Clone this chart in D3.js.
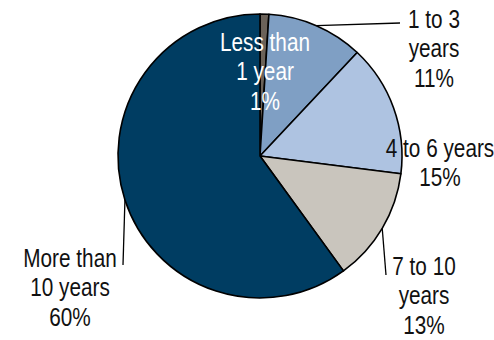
<!DOCTYPE html>
<html>
<head>
<meta charset="utf-8">
<script src="https://cdn.jsdelivr.net/npm/d3@7"></script>
<style>
  body { margin: 0; background: #fff; }
  text { font-family: "Liberation Sans", Arial, sans-serif; font-size: 25px; }
</style>
</head>
<body>
<div id="chart"></div>
<script>
// data
var categories = ["Less than 1 year", "1 to 3 years", "4 to 6 years", "7 to 10 years", "More than 10 years"];
var shares = [1, 11, 15, 13, 60];
var labelLines = [
  ["Less than", "1 year", "1%"],
  ["1 to 3", "years", "11%"],
  ["4 to 6 years", "15%"],
  ["7 to 10", "years", "13%"],
  ["More than", "10 years", "60%"]
];
var colors = ["#6b6259", "#7f9fc4", "#aec3e1", "#c9c5bd", "#003d62"];

var width = 494, height = 340;
var cx = 260, cy = 156, radius = 142;

// label anchor (centre x, first baseline) and leader end points
var labelPos = [[265, 51], [434, 28], [440, 157], [424, 275], [70, 267]];
var leaderEnd = [null, [400, 23], null, [386, 275], [123, 265]];
var lineGap = 29.5;
var squeeze = 0.83; // the original font is a narrow one

var svg = d3.select("#chart")
  .append("svg")
  .attr("width", width)
  .attr("height", height);

var g = svg.append("g")
  .attr("transform", "translate(" + cx + "," + cy + ")");

var pie = d3.pie().sort(null).value(function (d) { return d; });
var arcs = pie(shares);

var arc = d3.arc().innerRadius(0).outerRadius(radius);

g.selectAll("path.slice")
  .data(arcs)
  .enter()
  .append("path")
  .attr("class", "slice")
  .attr("d", arc)
  .style("fill", function (d, i) { return colors[i]; })
  .style("stroke", "#000")
  .style("stroke-width", 1.6)
  .style("stroke-linejoin", "round");

// leader lines, from the rim at the slice middle
arcs.forEach(function (d, i) {
  if (!leaderEnd[i]) return;
  var a = (d.startAngle + d.endAngle) / 2;
  var x0 = cx + Math.sin(a) * radius, y0 = cy - Math.cos(a) * radius;
  svg.append("line")
    .attr("x1", x0).attr("y1", y0)
    .attr("x2", leaderEnd[i][0]).attr("y2", leaderEnd[i][1])
    .style("stroke", "#000")
    .style("stroke-width", 1.3);
});

// labels
labelLines.forEach(function (lines, i) {
  var t = svg.append("text")
    .attr("transform", "translate(" + labelPos[i][0] + "," + labelPos[i][1] + ") scale(" + squeeze + ",1)")
    .attr("text-anchor", "middle")
    .style("fill", i === 0 ? "#fff" : "#111");
  lines.forEach(function (s, k) {
    t.append("tspan")
      .attr("x", 0)
      .attr("y", k * lineGap)
      .text(s);
  });
});
</script>
</body>
</html>
